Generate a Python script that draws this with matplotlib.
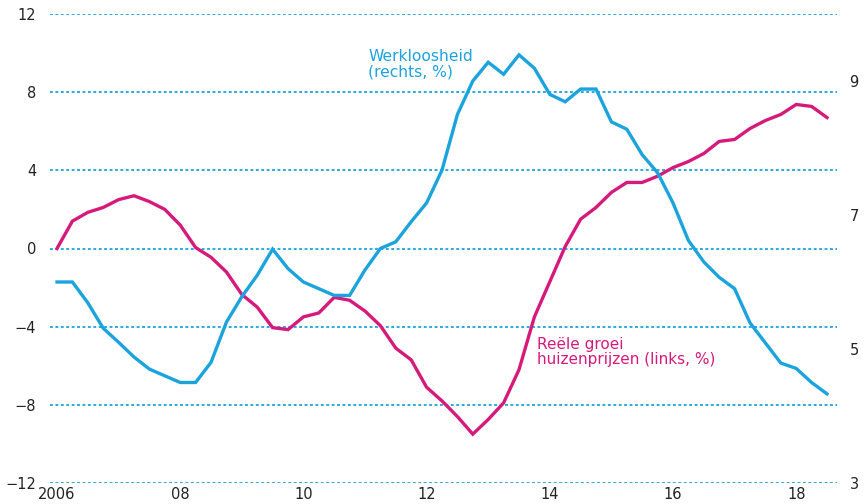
import matplotlib
matplotlib.use("Agg")
import matplotlib.pyplot as plt
import numpy as np
from matplotlib import font_manager

names = {f.name for f in font_manager.fontManager.ttflist}
fam = ['Liberation Sans Narrow', 'DejaVu Sans'] if 'Liberation Sans Narrow' in names else ['DejaVu Sans']
plt.rcParams['font.family'] = fam

# Quarterly data, 2006Q1 .. 2018Q3
start_year = 2006
house_prices = [0.0, 1.4, 1.85, 2.1, 2.5, 2.7, 2.4, 2.0, 1.2, 0.05,
                -0.45, -1.2, -2.35, -3.0, -4.05, -4.15, -3.5, -3.3, -2.5, -2.65,
                -3.2, -3.95, -5.1, -5.7, -7.1, -7.8, -8.6, -9.5, -8.75, -7.9,
                -6.2, -3.5, -1.7, 0.1, 1.5, 2.1, 2.87, 3.38, 3.38, 3.7,
                4.14, 4.45, 4.86, 5.48, 5.58, 6.14, 6.55, 6.86, 7.37, 7.27, 6.7]
unemployment = [6.0, 6.0, 5.69, 5.31, 5.1, 4.88, 4.70, 4.6, 4.5, 4.5,
                4.8, 5.4, 5.78, 6.1, 6.49, 6.2, 6.0, 5.9, 5.8, 5.8,
                6.18, 6.5, 6.6, 6.9, 7.18, 7.67, 8.5, 9.0, 9.28, 9.1,
                9.39, 9.19, 8.8, 8.69, 8.88, 8.88, 8.39, 8.28, 7.9, 7.63,
                7.18, 6.62, 6.3, 6.07, 5.9, 5.39, 5.09, 4.79, 4.71, 4.5, 4.33]
xtick_pos = [2006, 2008, 2010, 2012, 2014, 2016, 2018]
xtick_labels = ['2006', '08', '10', '12', '14', '16', '18']
left_ticks = [-12, -8, -4, 0, 4, 8, 12]
right_ticks = [3, 5, 7, 9]

BLUE = '#1BA3DD'
PINK = '#D61A7C'

x = start_year + np.arange(len(house_prices)) * 0.25

fig = plt.figure(figsize=(8.64, 5.04), dpi=100)
ax = fig.add_axes([50/864, 21/504, 787/864, 469/504])
ax2 = ax.twinx()

for a in (ax, ax2):
    for s in a.spines.values():
        s.set_visible(False)
    a.tick_params(length=0, labelsize=10.5, colors='#222222')

ax.set_xlim(2006 - 7/61.6, 2018.5 + 10/61.6)
ax.set_ylim(-12, 12)
ax.set_yticks(left_ticks)
ax.set_yticklabels([f"\u2212{abs(v)}" if v < 0 else str(v) for v in left_ticks])
ax.tick_params(axis='y', pad=10)
ax.set_xticks(xtick_pos)
ax.set_xticklabels(xtick_labels)
ax.tick_params(axis='x', pad=3)
ax.yaxis.grid(True, color=BLUE, linestyle=(0, (1.6, 1.4)), linewidth=1.3)
ax.set_axisbelow(True)

ax2.set_ylim(3, 10)
ax2.set_yticks(right_ticks)
ax2.tick_params(axis='y', pad=9)

ax.plot(x, house_prices, color=PINK, linewidth=2.4, solid_joinstyle='miter', zorder=3)
ax2.plot(x, unemployment, color=BLUE, linewidth=2.4, solid_joinstyle='miter', zorder=3)

ax.text(2011.05, 9.45, "Werkloosheid\n(rechts, %)", color=BLUE, fontsize=11.2,
        ha='left', va='center', linespacing=1.05)
ax.text(2013.8, -5.3, "Reële groei\nhuizenprijzen (links, %)", color=PINK, fontsize=11,
        ha='left', va='center', linespacing=1.05)

fig.savefig("out.png", dpi=100)
